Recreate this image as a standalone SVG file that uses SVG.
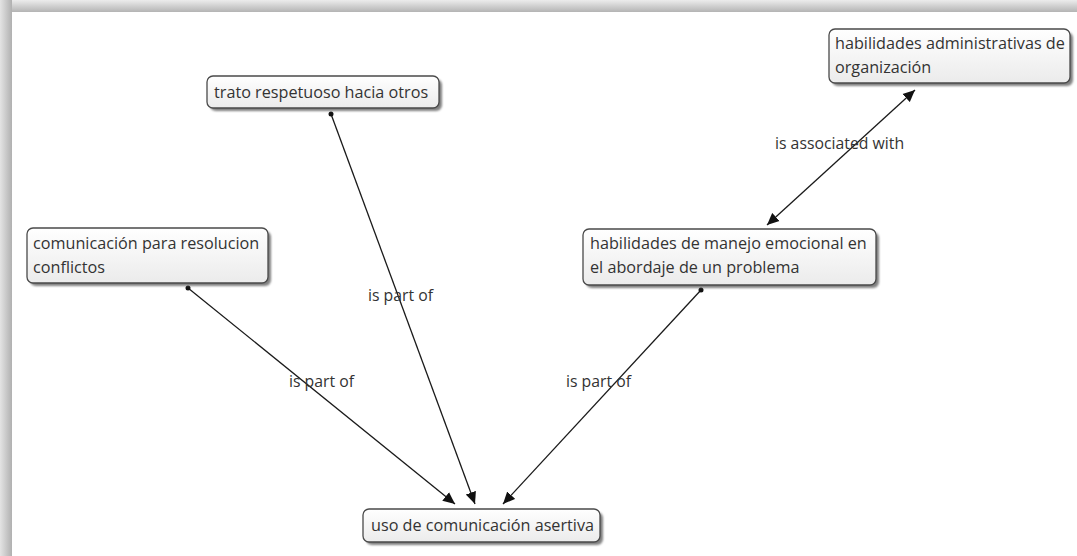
<svg xmlns="http://www.w3.org/2000/svg" width="1077" height="556" viewBox="0 0 1077 556">
<defs>
<linearGradient id="topbar" x1="0" y1="0" x2="0" y2="1"><stop offset="0" stop-color="#ececec"/><stop offset="1" stop-color="#b4b4b4"/></linearGradient>
<linearGradient id="leftbar" x1="0" y1="0" x2="1" y2="0"><stop offset="0" stop-color="#e4e4e4"/><stop offset="1" stop-color="#b0b0b0"/></linearGradient>
<linearGradient id="nodefill" x1="0" y1="0" x2="0" y2="1"><stop offset="0" stop-color="#ffffff"/><stop offset="1" stop-color="#ebebeb"/></linearGradient>
<filter id="sh" x="-10%" y="-20%" width="120%" height="150%"><feGaussianBlur stdDeviation="1.2"/></filter>
<marker id="arr" viewBox="0 0 10 10" refX="10" refY="5" markerWidth="12" markerHeight="12" markerUnits="userSpaceOnUse" orient="auto-start-reverse"><path d="M0,0.5 L10,5 L0,9.5 z" fill="#111"/></marker>
</defs>
<style>
.box{fill:url(#nodefill);stroke:#4a4a4a;stroke-width:1.3}
.shadow{fill:#555;opacity:0.75;filter:url(#sh)}
.t{font-family:"Open Sans","Noto Sans",sans-serif;font-size:16.2px;fill:#333}
.lbl{font-family:"Open Sans","Noto Sans",sans-serif;font-size:15.8px;fill:#333}
.ln{stroke:#1a1a1a;stroke-width:1.3;fill:none}
.dot{fill:#111}
</style>
<rect x="0" y="0" width="1077" height="556" fill="#ffffff"/>
<rect x="0" y="0" width="1077" height="12" fill="url(#topbar)"/>
<rect x="0" y="0" width="12" height="556" fill="url(#leftbar)"/>

<g id="connectors">
<line class="ln" x1="188" y1="288" x2="455" y2="504" marker-end="url(#arr)"/>
<circle class="dot" cx="188" cy="288" r="2.5"/>
<text class="lbl" x="289" y="387">is part of</text>
<line class="ln" x1="331" y1="114" x2="475" y2="504" marker-end="url(#arr)"/>
<circle class="dot" cx="331" cy="114" r="2.5"/>
<text class="lbl" x="368" y="301">is part of</text>
<line class="ln" x1="701" y1="290" x2="503" y2="504" marker-end="url(#arr)"/>
<circle class="dot" cx="701" cy="290" r="2.5"/>
<text class="lbl" x="566" y="387">is part of</text>
<line class="ln" x1="767" y1="225" x2="915" y2="90" marker-start="url(#arr)" marker-end="url(#arr)"/>
<text class="lbl" x="775" y="149">is associated with</text>
</g>

<g id="node-trato">
<rect class="shadow" x="210" y="79" width="232" height="32" rx="6"/>
<rect class="box" x="207" y="76" width="232" height="32" rx="6"/>
<text class="t" x="214" y="98">trato respetuoso hacia otros</text>
</g>

<g id="node-comunicacion">
<rect class="shadow" x="30" y="231" width="241" height="55" rx="6"/>
<rect class="box" x="27" y="228" width="241" height="55" rx="6"/>
<text class="t" x="33" y="249">comunicación para resolucion</text>
<text class="t" x="33" y="273">conflictos</text>
</g>

<g id="node-manejo">
<rect class="shadow" x="586" y="232" width="293" height="56" rx="6"/>
<rect class="box" x="583" y="229" width="293" height="56" rx="6"/>
<text class="t" x="590" y="249">habilidades de manejo emocional en</text>
<text class="t" x="590" y="273">el abordaje de un problema</text>
</g>

<g id="node-administrativas">
<rect class="shadow" x="832" y="32" width="241" height="54" rx="6"/>
<rect class="box" x="829" y="29" width="241" height="54" rx="6"/>
<text class="t" x="835" y="49">habilidades administrativas de</text>
<text class="t" x="835" y="73">organización</text>
</g>

<g id="node-uso">
<rect class="shadow" x="366" y="512" width="237" height="33" rx="6"/>
<rect class="box" x="363" y="509" width="237" height="33" rx="6"/>
<text class="t" x="371" y="531">uso de comunicación asertiva</text>
</g>
</svg>
